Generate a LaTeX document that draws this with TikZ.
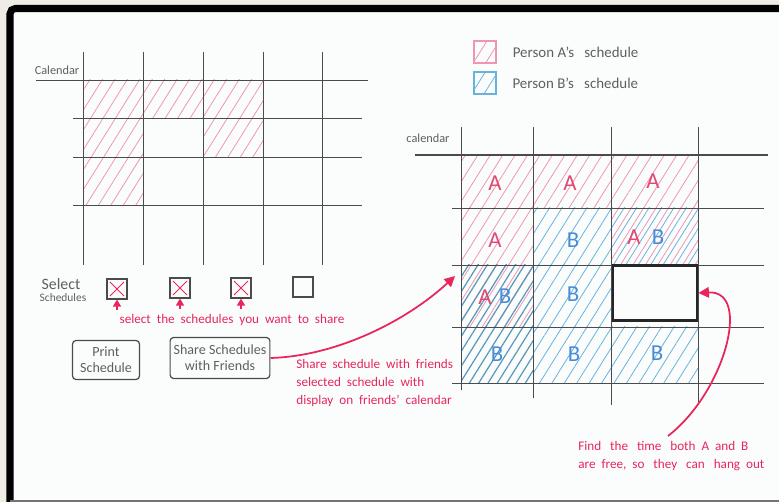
\documentclass[tikz,border=0pt]{standalone}
\usepackage{fontspec}
\setmainfont{Carlito}
\usepackage{tikz}
\usetikzlibrary{positioning,arrows.meta,patterns.meta}
\definecolor{paper}  {RGB}{251,253,253}
\definecolor{margin} {RGB}{238,236,228}
\definecolor{inkcol} {RGB}{75,75,75}
\definecolor{textcol}{RGB}{95,95,95}
\definecolor{acol}   {RGB}{238,150,178}
\definecolor{bcol}   {RGB}{105,178,220}
\definecolor{letacol}{RGB}{228,72,112}
\definecolor{letbcol}{RGB}{70,140,215}
\definecolor{notecol}{RGB}{232,38,92}

\begin{document}
\begin{tikzpicture}[x=0.02cm,y=-0.02cm,
  gridln/.style={draw=inkcol,line width=0.5pt},
  hatchA/.style={pattern={Lines[angle=58,distance=6pt,line width=0.45pt]},pattern color=acol},
  hatchB/.style={pattern={Lines[angle=58,distance=6pt,line width=0.45pt,xshift=3pt]},pattern color=bcol},
  hatchBB/.style={pattern={Lines[angle=58,distance=4.5pt,line width=0.7pt,xshift=2pt]},pattern color=bcol!85!black},
  label/.style={font=\fontsize{7}{8}\selectfont,text=textcol,inner sep=1pt},
  chk/.style={rectangle,draw=inkcol,line width=0.6pt,minimum size=0.4cm,inner sep=0pt},
  btn/.style={rectangle,rounded corners=2pt,draw=inkcol,line width=0.7pt,
              font=\fontsize{8}{9}\selectfont,text=textcol,align=center,inner sep=2pt},
  legbox/.style={rectangle,draw=#1,line width=0.7pt,minimum size=0.44cm,inner sep=0pt},
  letA/.style={font=\fontsize{13}{14}\selectfont,text=letacol},
  letB/.style={font=\fontsize{13}{14}\selectfont,text=letbcol},
  note/.style={font=\fontsize{7.5}{10.2}\selectfont,text=notecol,inner sep=0pt},
  notearrow/.style={draw=notecol,line width=1pt,-{Triangle[length=6pt,width=6pt]}},
  uparrow/.style={draw=notecol,line width=1.2pt,-{Triangle[length=4pt,width=4.5pt]}},
  freebox/.style={rectangle,draw=black!85,line width=1.6pt,minimum width=1.68cm,minimum height=1.1cm}
]
\useasboundingbox (0,0) rectangle (779,502);
\fill[margin] (0,0) rectangle (779,502);
\fill[paper] (10,8) rectangle (779,500);
\draw[black,line width=4pt,rounded corners=3pt] (10,502) -- (10,8.5) -- (779,8.5);
\draw[black!55,line width=1.2pt] (10,501) -- (779,501);

\fill[hatchA] (83,80) rectangle (143,205);
\fill[hatchA] (143,80) rectangle (203,118);
\fill[hatchA] (203,80) rectangle (263,157);
\foreach \x in {83,143,203,263,322}
  \draw[gridln] (\x,52) -- (\x,265);
\draw[gridln] (36,80) -- (368,80);
\foreach \y in {118,157,205}
  \draw[gridln] (73,\y) -- (362,\y);
\node[label] (cal1) at (57,70) {Calendar};

\node[font=\fontsize{9}{10}\selectfont,text=textcol,inner sep=0pt] (sel) at (61,284) {Select};
\node[label,font=\fontsize{6.5}{7}\selectfont] (sels) at (63,298) {Schedules};
\node[chk] (c1) at (117,289) {};
\node[chk] (c2) at (180,288) {};
\node[chk] (c3) at (241,288) {};
\node[chk] (c4) at (303,287) {};
\foreach \c in {c1,c2,c3}{
  \draw[notecol,line width=0.5pt] ([shift={(2pt,-2pt)}]\c.north west) -- ([shift={(-2pt,2pt)}]\c.south east);
  \draw[notecol,line width=0.5pt] ([shift={(-2pt,-2pt)}]\c.north east) -- ([shift={(2pt,2pt)}]\c.south west);
  \coordinate[below=6pt of \c.south] (t\c);
  \draw[uparrow] (t\c) -- (\c.south);
}
\node[note] (selnote) at (232,320) {select\ \ the\ \ schedules\ \ you\ \ want\ \ to\ \ share};

\node[btn,minimum width=1.34cm,minimum height=0.78cm] (print) at (106,360) {Print\\Schedule};
\node[btn,minimum width=1.98cm,minimum height=0.82cm] (share) at (220,358) {Share Schedules\\with Friends};
\node[note,anchor=west,align=left] (sharenote) at (296,383)
  {Share\ \ schedule\ \ with\ \ friends\\selected\ \ schedule\ \ with\\display\ \ on\ \ friends'\ \ calendar};

\node[legbox=acol,hatchA] (lega) at (485,52) {};
\node[legbox=bcol,hatchB] (legb) at (485,83) {};
\node[label,font=\fontsize{8.5}{9}\selectfont,anchor=west,right=8pt of lega] (legatext) {Person\ A's\ \ \ schedule};
\node[label,font=\fontsize{8.5}{9}\selectfont,anchor=west,right=8pt of legb] (legbtext) {Person\ B's\ \ \ schedule};

\fill[hatchA] (461,155) rectangle (698,208);
\fill[hatchA] (461,208) rectangle (533,265);
\fill[hatchB] (533,208) rectangle (611,265);
\fill[hatchA] (611,208) rectangle (698,265);
\fill[hatchB] (611,208) rectangle (698,265);
\fill[hatchA] (461,265) rectangle (533,327);
\fill[hatchBB] (461,265) rectangle (533,327);
\fill[hatchB] (533,265) rectangle (611,327);
\fill[hatchBB] (461,327) rectangle (533,383);
\fill[hatchB] (533,327) rectangle (698,383);
\foreach \x/\b in {461/390,533/398,611/405,698/402}
  \draw[gridln] (\x,127) -- (\x,\b);
\draw[gridln,line width=0.7pt] (415,155) -- (768,155);
\foreach \y in {208,265,327,383}
  \draw[gridln] (452,\y) -- (764,\y);
\node[label] (cal2) at (428,138) {calendar};

\node[letA] (a11) at (495,183) {A};
\node[letA] (a12) at (570,183) {A};
\node[letA] (a13) at (653,181) {A};
\node[letA] (a21) at (495,240) {A};
\node[letB] (b22) at (573,240) {B};
\node[letA] (a23) at (634,237) {A};
\node[letB] (b23) at (658,237) {B};
\node[letA] (a31) at (485,297) {A};
\node[letB] (b31) at (505,296) {B};
\node[letB] (b32) at (573,294) {B};
\node[letB] (b41) at (497,354) {B};
\node[letB] (b42) at (574,354) {B};
\node[letB] (b43) at (657,353) {B};
\node[freebox] (free) at (655,293) {};

\coordinate (sharetip) at (455,276);
\draw[notearrow] (share.east) .. controls (340,356) and (410,318) .. (sharetip);

\node[note,anchor=north west,align=left] (findnote) at (578,441)
  {Find\ \ \ the\ \ \ time\ \ \ both\ \ A\ \ and\ \ B\\are\ \ free,\ \ so\ \ \ they\ \ \ can\ \ \ hang\ \ out};
\coordinate (findtail) at (668,436);
\draw[notearrow] (findtail) .. controls (725,392) and (752,290) .. (free.east);
\end{tikzpicture}
\end{document}
